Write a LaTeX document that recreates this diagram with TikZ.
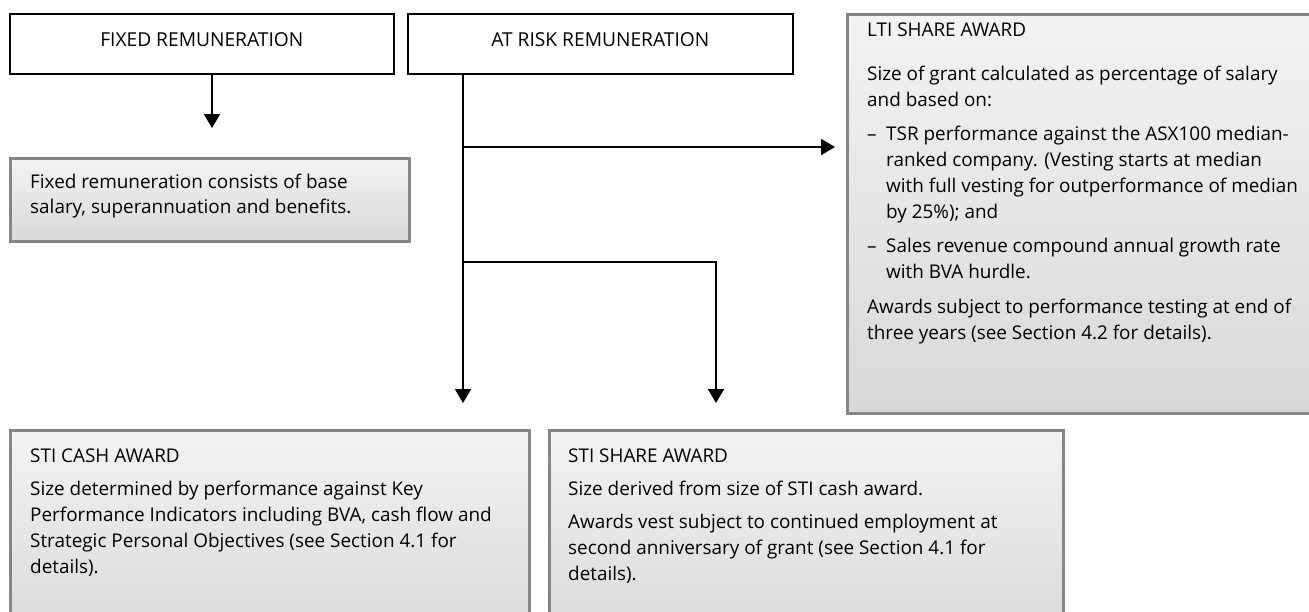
\documentclass[tikz,border=0pt]{standalone}
\usepackage{fontspec}
\setmainfont{Open Sans}
\usetikzlibrary{arrows.meta}
\definecolor{boxborder}{HTML}{868686}
\definecolor{shadetop}{HTML}{F3F3F3}
\definecolor{shadebot}{HTML}{D8D8D8}
\tikzset{
  topbox/.style={draw=black, line width=1.6pt, fill=white, rectangle, inner sep=0pt,
    anchor=north west, font=\fontsize{19.2}{22}\selectfont, text height=13pt, text depth=8pt},
  greybox/.style={draw=boxborder, line width=2.6pt, top color=shadetop, bottom color=shadebot,
    rectangle, inner sep=0pt, anchor=north west},
  txt/.style={anchor=base west, inner sep=0pt, font=\fontsize{18.9}{26.3}\selectfont},
  link/.style={line width=2pt},
  arrowlink/.style={line width=2pt, -{Triangle[width=16pt,length=14pt]}}
}
\newcommand{\dashitem}{\makebox[19pt][l]{–}}
\newcommand{\hang}{\hspace*{19pt}}
\begin{document}
\begin{tikzpicture}[x=1pt,y=-1pt]
\useasboundingbox (0,0) rectangle (1309,611);
\clip (0,0) rectangle (1309,611);

% top boxes
\node[topbox, minimum width=384pt, minimum height=60pt] (fixed) at (9,13) {FIXED REMUNERATION};
\node[topbox, minimum width=385pt, minimum height=60pt] (atrisk) at (407,13) {AT RISK REMUNERATION};

% grey boxes
\node[greybox, minimum width=399pt, minimum height=83pt] (fixbox) at (9,157) {};
\node[greybox, minimum width=470pt, minimum height=399pt] (lti) at (846,13) {};
\node[greybox, minimum width=519pt, minimum height=215pt] (sticash) at (9,429) {};
\node[greybox, minimum width=514pt, minimum height=215pt] (stishare) at (548,429) {};

% texts
\node[txt] (fixtext) at (30,188) {\parbox[t]{370pt}{\fontsize{18.9}{25}\selectfont
Fixed remuneration consists of base\\
salary, superannuation and benefits.}};

\node[txt] (ltitext) at (867,36) {\parbox[t]{440pt}{\fontsize{18.9}{26}\selectfont
LTI SHARE AWARD\\[18pt]
Size of grant calculated as percentage of salary\\
and based on:\\[8pt]
\dashitem TSR performance against the ASX100 median-\\
\hang ranked company. (Vesting starts at median\\
\hang with full vesting for outperformance of median\\
\hang by 25\%); and\\[8pt]
\dashitem Sales revenue compound annual growth rate\\
\hang with BVA hurdle.\\[9pt]
Awards subject to performance testing at end of\\
three years (see Section 4.2 for details).}};

\node[txt] (cashtext) at (30,462) {\parbox[t]{490pt}{
STI CASH AWARD\\[6.7pt]
Size determined by performance against Key\\
Performance Indicators including BVA, cash flow and\\
Strategic Personal Objectives (see Section 4.1 for\\
details).}};

\node[txt] (sharetext) at (568,462) {\parbox[t]{480pt}{
STI SHARE AWARD\\[6.7pt]
Size derived from size of STI cash award.\\[6.7pt]
Awards vest subject to continued employment at\\
second anniversary of grant (see Section 4.1 for\\
details).}};

% connector points
\coordinate (fixtip) at (212,128);
\coordinate (cashtip) at (463,403);
\coordinate (sharetip) at (716,403);
\coordinate (ltitip) at (835,147);
\coordinate (j1) at (463,147);
\coordinate (j2) at (463,262);
\coordinate (k2) at (716,262);

% connectors
\draw[arrowlink] (fixed.south -| fixtip) -- (fixtip);
\draw[arrowlink] (atrisk.south -| cashtip) -- (cashtip);
\draw[arrowlink] (j1) -- (ltitip);
\draw[arrowlink] (j2) -- (k2) -- (sharetip);
\end{tikzpicture}
\end{document}
